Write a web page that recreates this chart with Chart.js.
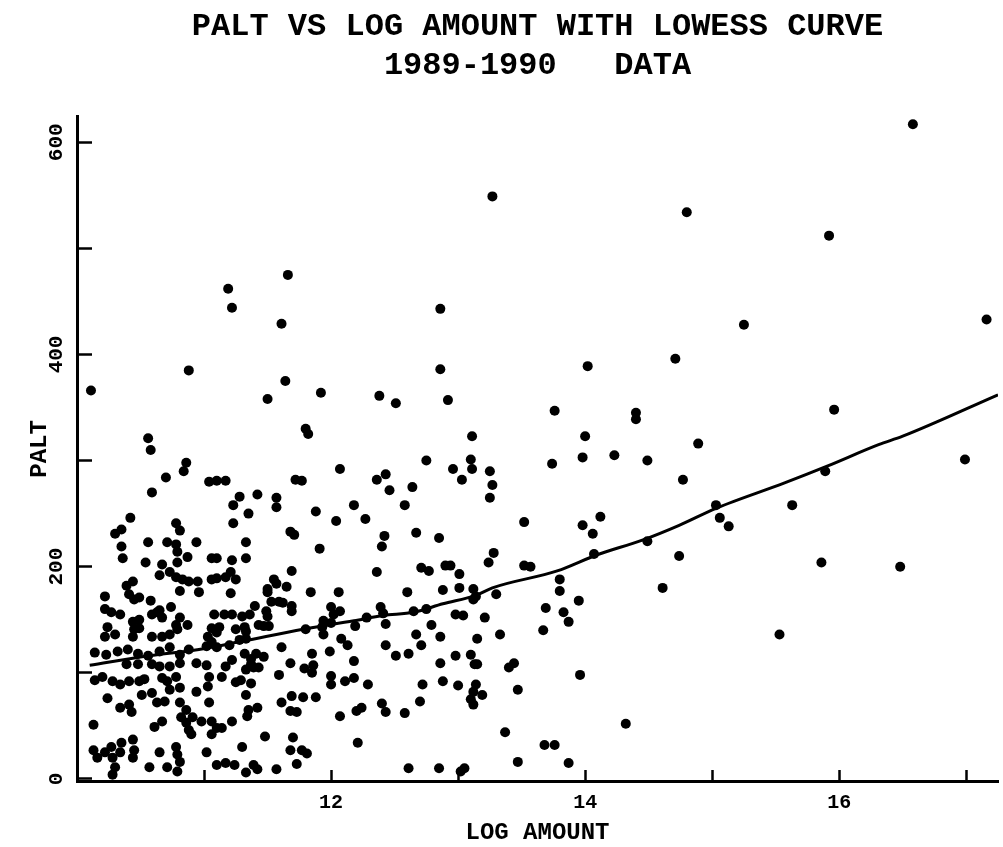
<!DOCTYPE html>
<html>
<head>
<meta charset="utf-8">
<script src="https://cdn.jsdelivr.net/npm/chart.js@4/dist/chart.umd.min.js"></script>
<style>
  html, body { margin: 0; padding: 0; background: #fff; }
  #c { display: block; }
</style>
</head>
<body>
<canvas id="c" width="1003" height="847"></canvas>
<script>
// ---- data ----
const titleLines = ['PALT VS LOG AMOUNT WITH LOWESS CURVE', '1989-1990   DATA'];
const xTitle = 'LOG AMOUNT';
const yTitle = 'PALT';
const xTickLabels = [12, 14, 16];
const yTickLabels = [0, 200, 400, 600];

const logAmount = [
  16.58,13.27,14.80,15.92,17.16,15.25,11.66,14.02,14.71,13.76,
  14.40,14.40,15.96,14.00,13.74,13.98,14.23,14.49,14.89,14.77,
  16.99,15.89,15.63,15.03,15.06,15.13,13.52,14.12,13.98,14.06,
  13.28,13.24,13.52,13.57,14.07,14.49,14.74,15.86,16.48,13.80,
  13.80,13.30,13.95,13.69,13.83,13.87,13.21,14.61,13.67,15.53,
  13.33,13.40,13.47,13.44,13.37,13.68,13.76,13.87,13.47,13.96,
  14.32,
  11.19,11.22,11.61,12.86,10.88,10.11,11.64,11.50,11.92,12.38,
  12.51,12.86,12.92,11.80,11.82,13.11,10.56,10.58,12.75,13.10,
  13.11,12.96,13.03,13.25,13.27,13.25,12.07,10.86,10.84,10.70,
  10.59,11.04,11.10,11.17,11.72,11.77,12.36,12.43,12.46,12.64,
  11.28,11.23,11.35,11.42,11.57,11.57,11.88,12.04,12.18,12.27,
  12.58,10.42,10.35,10.30,10.78,10.81,11.23,11.68,11.71,12.42,
  12.67,12.85,
  10.35,10.36,10.56,10.71,10.78,10.79,10.94,10.87,10.79,10.54,
  10.67,10.65,10.73,10.78,10.83,10.88,10.95,10.81,10.96,11.06,
  11.10,11.22,11.33,11.33,11.06,11.10,11.17,11.25,11.21,11.21,
  10.39,10.44,10.41,10.45,10.49,10.22,10.58,10.22,10.27,10.34,
  10.24,10.22,10.30,10.44,10.49,10.45,10.49,10.44,10.59,10.63,
  10.67,10.65,10.74,10.81,10.78,10.87,10.59,10.67,10.73,10.79,
  11.08,11.16,11.06,11.12,11.03,11.10,11.22,11.30,11.25,11.32,
  11.28,
  10.14,10.23,10.32,10.40,10.48,10.56,10.65,10.73,10.81,10.88,
  11.02,11.10,11.20,11.06,10.14,10.20,10.28,10.34,10.41,10.49,
  10.53,10.67,10.71,10.78,10.73,10.81,10.94,11.03,11.04,11.02,
  11.14,11.17,11.22,10.94,10.65,10.73,10.81,10.39,10.48,11.29,
  10.24,10.34,10.41,10.43,10.51,10.59,10.63,10.69,10.81,10.86,
  10.82,10.86,10.88,10.90,10.91,10.98,11.04,11.06,11.10,11.06,
  11.14,11.22,11.33,11.25,10.13,10.61,10.67,10.13,10.16,10.22,
  10.27,10.28,10.30,10.28,10.35,10.34,10.44,10.45,10.44,10.57,
  10.65,10.71,10.78,10.79,10.81,10.79,11.02,11.10,11.17,11.24,
  11.30,11.33,10.59,11.33,
  11.91,12.40,11.69,12.36,12.71,12.77,12.90,12.94,13.01,11.55,
  11.57,11.65,11.50,11.50,11.84,12.06,12.60,12.88,13.01,13.12,
  13.14,11.53,11.59,11.62,11.69,11.69,11.40,11.36,11.49,11.50,
  11.43,11.47,11.51,11.33,11.33,11.80,11.94,11.93,12.00,12.07,
  12.02,12.00,11.94,12.19,12.28,12.39,12.41,12.43,12.65,12.75,
  12.79,12.67,12.71,12.86,12.98,13.04,13.12,13.15,11.61,11.85,
  11.99,12.08,12.13,12.18,12.43,12.51,12.61,12.86,12.98,13.10,
  13.13,13.15,11.32,11.37,11.41,11.47,11.39,11.43,11.37,11.68,
  11.59,11.79,11.86,11.85,12.00,12.00,12.11,12.18,12.29,11.37,
  12.72,12.88,13.00,13.14,13.12,13.10,13.12,13.19,11.61,11.69,
  11.78,11.88,11.68,11.73,11.35,11.42,11.34,12.07,12.20,12.24,
  12.40,12.43,12.58,12.70,11.48,11.70,11.68,11.77,11.81,12.21,
  11.39,11.42,11.57,11.73,12.61,12.85,13.02,13.05
];

const palt = [
  617,549,534,512,433,428,475,389,396,347,
  345,339,348,323,297,303,305,300,316,282,
  301,290,258,258,246,238,242,247,239,231,
  213,204,201,200,212,224,210,204,200,188,
  177,174,168,161,157,148,152,180,140,136,
  136,105,84,109,44,32,32,15,16,98,
  52,
  462,444,429,443,385,366,375,358,364,361,
  354,386,357,330,325,323,321,310,300,301,
  292,292,282,290,277,265,292,298,290,284,
  270,280,281,281,282,281,282,287,272,275,
  266,258,250,268,265,256,252,243,258,245,
  258,246,235,231,241,234,241,233,230,229,
  232,227,
  219,208,223,223,221,214,223,209,204,204,
  202,192,195,190,188,186,186,177,176,208,
  208,206,223,208,188,189,190,188,195,175,
  182,186,174,169,171,172,168,160,157,155,
  143,134,136,148,150,141,142,134,155,157,
  152,159,162,152,145,145,134,134,136,141,
  155,155,142,143,134,138,155,153,141,143,
  131,
  119,117,120,122,118,116,120,124,117,122,
  125,124,126,129,93,96,92,89,92,92,
  94,95,92,96,84,86,82,87,96,107,
  96,106,112,109,106,106,109,108,108,93,
  76,67,70,63,79,81,72,73,72,65,
  58,53,46,42,58,54,72,54,48,42,
  48,54,79,91,51,49,54,27,20,25,
  30,20,11,4,34,25,37,27,20,11,
  25,11,30,23,16,7,25,13,15,13,
  30,6,108,103,
  217,219,196,195,199,196,201,201,193,188,
  184,181,179,176,176,176,176,178,180,179,
  172,167,167,166,163,158,163,155,158,153,
  145,144,144,139,132,141,149,143,162,158,
  155,147,136,144,152,162,156,146,158,160,
  145,136,126,134,155,154,169,132,124,118,
  120,132,126,111,126,116,118,109,116,117,
  108,108,118,113,118,115,105,105,108,109,
  98,104,107,100,97,89,92,95,89,90,
  89,92,88,89,82,75,70,79,72,78,
  77,77,64,63,65,67,59,59,64,67,
  71,63,62,73,40,39,27,27,24,34,
  13,9,9,14,10,10,7,10
];

const lowessX = [10.10, 10.57, 10.96, 11.31, 11.78, 12.18, 12.41, 12.65, 12.88, 13.14, 13.27,
                 13.78, 14.09, 14.45, 14.74, 15.03, 15.57, 15.91, 16.31, 16.50, 17.25];
const lowessY = [107, 116, 122, 130, 141, 149, 154, 157, 165, 173, 180,
                 196, 211, 225, 239, 255, 279, 295, 315, 323, 362];

// ---- chart ----
const FONT = "'Liberation Mono', 'DejaVu Sans Mono', monospace";
const points = logAmount.map((x, i) => ({ x: x, y: palt[i] }));
const curve = lowessX.map((x, i) => ({ x: x, y: lowessY[i] }));

new Chart(document.getElementById('c'), {
  type: 'scatter',
  data: {
    datasets: [
      {
        label: 'PALT',
        data: points,
        backgroundColor: '#000',
        borderWidth: 0,
        pointRadius: 5,
        pointHoverRadius: 5
      },
      {
        label: 'LOWESS',
        data: curve,
        showLine: true,
        borderColor: '#000',
        borderWidth: 3,
        pointRadius: 0,
        cubicInterpolationMode: 'monotone',
        fill: false
      }
    ]
  },
  options: {
    responsive: false,
    animation: false,
    devicePixelRatio: 1,
    layout: { padding: 0 },
    plugins: {
      legend: { display: false },
      tooltip: { enabled: false },
      title: {
        display: true,
        fullSize: false,
        text: titleLines,
        color: '#000',
        font: { family: FONT, size: 32, weight: 'bold', lineHeight: 1.2 },
        padding: { top: 8, bottom: 32 }
      }
    },
    scales: {
      x: {
        type: 'linear',
        min: 10,
        max: 17.25,
        border: { display: true, color: '#000', width: 3 },
        grid: { drawOnChartArea: false, drawTicks: true, tickLength: -11, tickWidth: 2.5, tickColor: '#000' },
        ticks: {
          stepSize: 1,
          includeBounds: false,
          autoSkip: false,
          maxRotation: 0,
          padding: 21,
          color: '#000',
          font: { family: FONT, size: 20, weight: 'bold', lineHeight: 1.2 },
          callback: (v) => xTickLabels.includes(v) ? String(v) : ''
        },
        title: {
          display: true,
          text: xTitle,
          color: '#000',
          font: { family: FONT, size: 24, weight: 'bold', lineHeight: 1.2 },
          padding: { top: 0, bottom: 0 }
        },
        afterFit: (s) => { s.height = 66; }
      },
      y: {
        type: 'linear',
        min: -2,
        max: 624,
        border: { display: true, color: '#000', width: 3 },
        grid: { drawOnChartArea: false, drawTicks: true, tickLength: -15, tickWidth: 2.5, tickColor: '#000' },
        ticks: {
          stepSize: 100,
          includeBounds: false,
          autoSkip: false,
          minRotation: 90,
          maxRotation: 90,
          crossAlign: 'center',
          padding: 16,
          color: '#000',
          font: { family: FONT, size: 21, weight: 'bold', lineHeight: 1.2 },
          callback: (v) => yTickLabels.includes(v) ? String(v) : ''
        },
        title: {
          display: true,
          text: yTitle,
          color: '#000',
          font: { family: FONT, size: 24, weight: 'bold', lineHeight: 1.2 },
          padding: { top: 26, bottom: 0 }
        },
        afterFit: (s) => { s.width = 77; }
      }
    }
  }
});
</script>
</body>
</html>
